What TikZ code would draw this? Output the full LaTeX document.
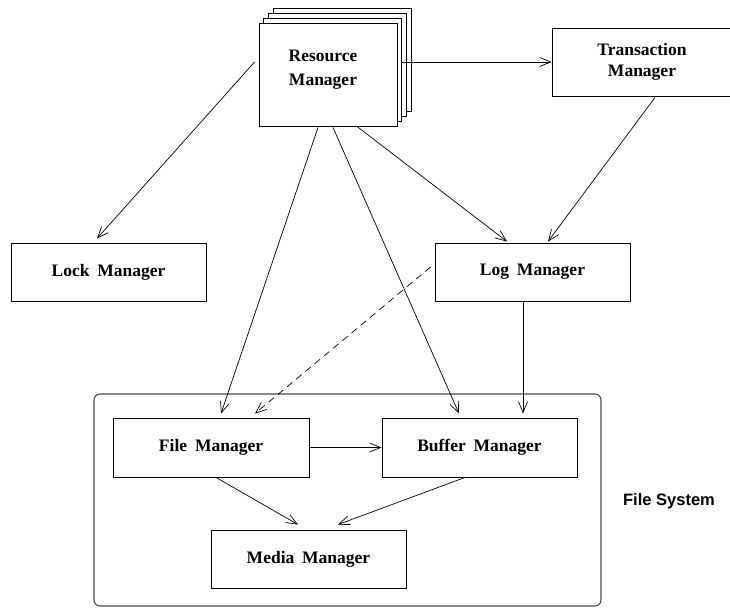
\documentclass[tikz,border=0pt]{standalone}
\usepackage{fontspec}
\setmainfont{Liberation Serif}
\newfontfamily\labelsans{Liberation Sans}
\usetikzlibrary{arrows.meta,calc}

\tikzset{
  mgr/.style={draw, line width=0.9pt, fill=white, inner sep=0pt, align=center,
    font=\fontsize{17.5}{23}\selectfont\bfseries},
  link/.style={line width=0.7pt, -{Straight Barb[length=11pt,width=9pt,line width=0.7pt]}},
  weaklink/.style={link, dash pattern=on 7pt off 5pt},
  groupbox/.style={draw=black!70, line width=1.1pt, rounded corners=6pt},
}
\newcommand{\gap}{\hspace{0.45em}}

\begin{document}
\begin{tikzpicture}[x=1pt, y=-1pt]
  \useasboundingbox (0,0) rectangle (730,607);

  % file system container
  \draw[groupbox] (94,394) rectangle (601,606);
  \node[font=\labelsans\fontsize{16.5}{19}\selectfont\bfseries] (fslabel) at (669,501) {File System};

  % stacked resource managers (back to front)
  \foreach \k in {3,2,1} {
    \node[mgr, minimum width=138pt, minimum height=103pt]
      (rmback\k) at ($(328,74.5)+(4.7*\k,-4.7*\k)$) {};
  }
  \node[mgr, minimum width=138pt, minimum height=103pt] (rm) at (328,74.5) {};
  \node[font=\fontsize{17.5}{24}\selectfont\bfseries, align=center] (rmtext) at (323,69.5) {Resource\\Manager};

  % the transaction manager runs off the right-hand edge
  \node[mgr, minimum width=180pt, minimum height=68pt,
        font=\fontsize{17.5}{20.5}\selectfont\bfseries] (tm) at (642,62) {Transaction\\Manager};
  \node[mgr, minimum width=195pt, minimum height=58pt] (lock) at (108.5,272) {Lock\gap Manager};
  \node[mgr, minimum width=195pt, minimum height=58pt] (log) at (532.5,272) {Log\gap Manager};
  \node[mgr, minimum width=196pt, minimum height=59pt] (file) at (211,447.5) {File\gap Manager};
  \node[mgr, minimum width=195pt, minimum height=59pt] (buffer) at (479.5,447.5) {Buffer\gap Manager};
  \node[mgr, minimum width=195pt, minimum height=58pt] (media) at (308.5,559) {Media\gap Manager};

  % connectors
  \draw[link] ($(rm.east)+(5,-12.5)$) -- (tm.west);
  \draw[link] ($(rm.west)+(-4,-12.5)$) -- ($(lock.north)+(-11.5,-4)$);
  \draw[link] ($(rm.south)+(-10,1)$) -- ($(file.north)+(10,-4)$);
  \draw[link] ($(rm.south)+(5,1)$) -- ($(buffer.north)+(-20.5,-4)$);
  \draw[link] ($(rm.south)+(29,0)$) -- ($(log.north)+(-25.5,-1)$);
  \draw[link] ($(tm.south)+(13,1)$) -- ($(log.north)+(15.5,-1)$);
  \draw[link] ($(log.south)+(-9.5,0)$) -- ($(buffer.north)+(43.5,-4)$);
  \draw[weaklink] ($(log.west)+(-4,-5)$) -- ($(file.north)+(44,-4)$);
  \draw[link] (file.east) -- (buffer.west);
  \draw[link] ($(file.south)+(5,0)$) -- ($(media.north)+(-10.5,-5)$);
  \draw[link] ($(buffer.south)+(-14.5,0)$) -- ($(media.north)+(29.5,-5)$);
\end{tikzpicture}
\end{document}
